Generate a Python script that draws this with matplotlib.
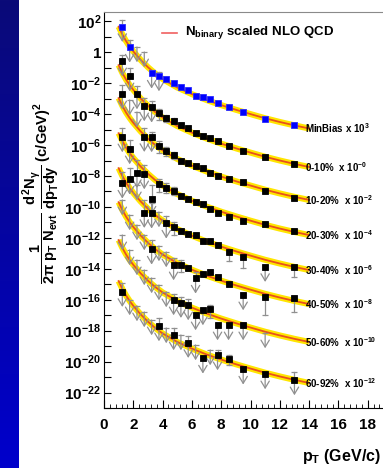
import numpy as np
import matplotlib
matplotlib.use("Agg")
import matplotlib.pyplot as plt
import matplotlib.transforms as mtransforms
from matplotlib.colors import LinearSegmentedColormap
from matplotlib.ticker import FixedLocator, FuncFormatter, MultipleLocator

plt.rcParams['font.family'] = ['Liberation Sans', 'DejaVu Sans']
plt.rcParams['font.weight'] = 'bold'
plt.rcParams['mathtext.fontset'] = 'custom'
plt.rcParams['mathtext.rm'] = 'Liberation Sans:bold'
plt.rcParams['mathtext.it'] = 'Liberation Sans:bold'
plt.rcParams['mathtext.bf'] = 'Liberation Sans:bold'
plt.rcParams['mathtext.sf'] = 'Liberation Sans:bold'
plt.rcParams['mathtext.fallback'] = 'stixsans'

# ---------------- data (log10 of the plotted values) ----------------
classes = ['MinBias', '0-10', '10-20', '20-30', '30-40', '40-50', '50-60', '60-92']
class_labels = [r'MinBias x 10$^{3}$', r'0-10%  x 10$^{-0}$', r'10-20%  x 10$^{-2}$',
                r'20-30%  x 10$^{-4}$', r'30-40%  x 10$^{-6}$', r'40-50%  x 10$^{-8}$',
                r'50-60%  x 10$^{-10}$', r'60-92%  x 10$^{-12}$']

curve_pt = [1.0, 1.25, 1.5, 1.75, 2.0, 2.5, 3.0, 3.5, 4.0, 5.0, 6.0, 7.0, 8.0, 9.0, 10.0, 11.0, 12.0, 13.0, 14.0]
nlo_minbias = [1.655, 1.155, 0.73, 0.37, 0.055, -0.495, -0.97, -1.38, -1.73, -2.28, -2.71, -3.09, -3.42, -3.72, -4.0, -4.27, -4.51, -4.73, -4.93]
nlo_0_10 = [-0.835, -1.335, -1.76, -2.12, -2.435, -2.985, -3.46, -3.87, -4.22, -4.77, -5.2, -5.58, -5.91, -6.21, -6.49, -6.76, -7.0, -7.22, -7.42]
nlo_10_20 = [-2.965, -3.465, -3.89, -4.25, -4.565, -5.115, -5.59, -6.0, -6.35, -6.9, -7.33, -7.71, -8.04, -8.34, -8.62, -8.89, -9.13, -9.35, -9.55]
nlo_20_30 = [-5.235, -5.735, -6.16, -6.52, -6.835, -7.385, -7.86, -8.27, -8.62, -9.17, -9.6, -9.98, -10.31, -10.61, -10.89, -11.16, -11.4, -11.62, -11.82]
nlo_30_40 = [-7.495, -7.995, -8.42, -8.78, -9.095, -9.645, -10.12, -10.53, -10.88, -11.43, -11.86, -12.24, -12.57, -12.87, -13.15, -13.42, -13.66, -13.88, -14.08]
nlo_40_50 = [-9.695, -10.195, -10.62, -10.98, -11.295, -11.845, -12.32, -12.73, -13.08, -13.63, -14.06, -14.44, -14.77, -15.07, -15.35, -15.62, -15.86, -16.08, -16.28]
nlo_50_60 = [-12.145, -12.645, -13.07, -13.43, -13.745, -14.295, -14.77, -15.18, -15.53, -16.08, -16.51, -16.89, -17.22, -17.52, -17.8, -18.07, -18.31, -18.53, -18.73]
nlo_60_92 = [-14.795, -15.295, -15.72, -16.08, -16.395, -16.945, -17.42, -17.83, -18.18, -18.73, -19.16, -19.54, -19.87, -20.17, -20.45, -20.72, -20.96, -21.18, -21.38]
nlo_curves = [nlo_minbias, nlo_0_10, nlo_10_20, nlo_20_30, nlo_30_40, nlo_40_50, nlo_50_60, nlo_60_92]

NA = np.nan  # lower error compatible with zero -> drawn as arrow

# MinBias (x10^3)
mb_pt = [1.25, 1.75, 3.25, 3.75, 4.25, 4.75, 5.25, 5.75, 6.25, 6.75, 7.25, 7.75, 8.5, 9.5, 11.0, 13.0]
mb_y = [1.650, 0.318, -1.362, -1.537, -1.750, -2.009, -2.267, -2.442, -2.810, -2.914, -3.043, -3.263, -3.560, -3.864, -4.297, -4.724]
mb_hi = [2.083, 0.790, -1.149, -1.278, -1.602, -1.860, -2.267, -2.442, -2.810, -2.914, -3.043, -3.263, -3.560, -3.864, -4.297, -4.724]
mb_lo = [NA, NA, NA, NA, -1.925, -2.184, -2.267, -2.442, -2.810, -2.914, -3.043, -3.263, -3.560, -3.864, -4.297, -4.724]
mb_ul_pt = [2.25, 2.75]
mb_ul = [0.338, 0.014]

# 0-10%
c0_pt = [1.25, 1.75, 2.25, 2.75, 3.25, 3.75, 4.25, 4.75, 5.25, 5.75, 6.25, 6.75, 7.25, 7.75, 8.5, 9.5, 11.0, 13.0]
c0_y = [-0.567, -1.537, -2.701, -3.476, -3.560, -3.961, -4.252, -4.446, -4.704, -4.879, -5.202, -5.396, -5.525, -5.719, -6.042, -6.385, -6.773, -7.225]
c0_hi = [-0.180, -1.020, -2.184, -2.959, -3.153, -3.670, -4.058, -4.252, -4.704, -4.879, -5.202, -5.396, -5.525, -5.719, -6.042, -6.385, -6.773, -7.225]
c0_lo = [NA, NA, NA, NA, NA, -4.381, -4.510, -4.640, -4.704, -4.879, -5.202, -5.396, -5.525, -5.719, -6.042, -6.385, -6.773, -7.225]
c0_ul_pt = []
c0_ul = []

# 10-20%
c1_pt = [1.25, 2.75, 3.25, 3.75, 4.25, 4.75, 5.25, 5.75, 6.25, 6.75, 7.25, 7.75, 8.5, 9.5, 11.0, 13.0]
c1_y = [-2.701, -5.461, -5.480, -6.062, -6.385, -6.644, -7.031, -7.180, -7.335, -7.503, -7.826, -7.982, -8.214, -8.408, -8.951, -9.404]
c1_hi = [-2.119, -4.898, -5.157, -5.738, -6.126, -6.449, -7.031, -7.180, -7.335, -7.503, -7.826, -7.982, -8.214, -8.408, -8.951, -9.404]
c1_lo = [NA, NA, NA, -6.514, -6.708, -6.902, -7.031, -7.180, -7.335, -7.503, -7.826, -7.982, -8.214, -8.408, -8.951, -9.404]
c1_ul_pt = [1.75, 2.25]
c1_ul = [-3.088, -3.864]

# 20-30%
c2_pt = [1.25, 1.75, 2.25, 2.75, 3.25, 3.75, 4.25, 4.75, 5.25, 5.75, 6.25, 6.75, 7.25, 7.75, 8.5, 9.5, 11.0, 13.0]
c2_y = [-5.480, -6.256, -7.788, -7.872, -9.507, -8.537, -8.757, -8.951, -9.294, -9.507, -9.662, -9.830, -10.154, -10.373, -10.632, -10.890, -11.104, -11.537]
c2_hi = [-4.898, -5.674, -6.967, -7.290, -8.583, -8.195, -8.453, -8.712, -9.294, -9.507, -9.662, -9.830, -10.154, -10.373, -10.632, -10.890, -11.104, -11.537]
c2_lo = [NA, NA, NA, NA, NA, -9.035, -9.100, -9.229, -9.294, -9.507, -9.662, -9.830, -10.154, -10.373, -10.632, -10.890, -11.104, -11.537]
c2_ul_pt = []
c2_ul = []

# 30-40%
c3_pt = [1.25, 1.75, 2.75, 3.25, 4.25, 4.75, 5.25, 5.75, 6.25, 6.75, 7.25, 7.75, 8.5, 9.5, 11.0, 13.0]
c3_y = [-8.473, -8.214, -10.373, -10.412, -11.058, -11.297, -11.556, -11.750, -11.815, -12.183, -12.203, -12.461, -12.894, -13.218, -13.864, -13.903]
c3_hi = [-7.742, -7.484, -9.552, -9.746, -10.586, -10.974, -11.556, -11.750, -11.815, -12.183, -12.203, -12.461, -12.894, -13.218, -13.864, -13.903]
c3_lo = [NA, NA, NA, NA, NA, -11.815, -11.556, -11.750, -11.815, -12.183, -12.203, -12.461, -13.495, -13.948, NA, -14.530]
c3_ul_pt = [2.25, 3.75]
c3_ul = [-8.583, -10.328]

# 40-50%
c4_pt = [3.25, 4.75, 5.25, 5.75, 6.25, 6.75, 7.25, 7.75, 8.5, 9.5, 11.0, 13.0]
c4_y = [-12.739, -13.754, -13.754, -13.948, -14.614, -14.336, -14.187, -14.510, -14.982, -15.693, -15.803, -15.906]
c4_hi = [-12.138, -13.301, -13.431, -13.948, -14.206, -14.336, -14.187, -14.510, -14.982, -15.693, -15.803, -15.906]
c4_lo = [NA, NA, -14.206, -13.948, NA, -14.336, -14.187, -14.510, -14.982, NA, -16.986, -16.792]
c4_ul_pt = [1.25, 1.75, 2.25, 2.75, 3.75, 4.25]
c4_ul = [-9.552, -10.522, -11.168, -11.815, -12.526, -12.914]

# 50-60%
c5_pt = [4.75, 5.25, 5.75, 6.25, 6.75, 7.25, 7.75, 8.5, 9.5]
c5_y = [-16.016, -16.191, -16.340, -16.986, -16.663, -16.618, -17.633, -17.633, -17.633]
c5_hi = [-15.629, -15.822, -15.952, -16.986, -16.663, -16.340, -17.633, -17.633, -17.633]
c5_lo = [NA, NA, NA, NA, NA, -17.180, NA, NA, NA]
c5_ul_pt = [1.25, 1.75, 2.25, 2.75, 3.25, 3.75, 4.25, 11.0]
c5_ul = [-11.815, -12.784, -13.431, -14.077, -14.594, -15.047, -15.499, -18.150]

# 60-92%
c6_pt = [1.25, 3.75, 4.75, 5.75, 6.75, 7.75, 8.5, 9.5, 11.0, 13.0]
c6_y = [-15.480, -17.697, -18.279, -18.777, -19.785, -19.571, -19.850, -20.496, -20.800, -21.188]
c6_hi = [-14.918, -17.180, -17.826, -18.343, -19.785, -19.248, -19.571, -20.496, -20.800, -20.671]
c6_lo = [NA, NA, NA, NA, NA, NA, -20.218, NA, NA, NA]
c6_ul_pt = [1.75, 2.25, 2.75, 3.25, 4.25, 5.25, 6.25, 7.25]
c6_ul = [-16.016, -16.404, -16.792, -17.309, -17.826, -18.279, -18.925, -19.248]

series = [
    (mb_pt, mb_y, mb_hi, mb_lo, mb_ul_pt, mb_ul, '#0000ff'),
    (c0_pt, c0_y, c0_hi, c0_lo, c0_ul_pt, c0_ul, '#000000'),
    (c1_pt, c1_y, c1_hi, c1_lo, c1_ul_pt, c1_ul, '#000000'),
    (c2_pt, c2_y, c2_hi, c2_lo, c2_ul_pt, c2_ul, '#000000'),
    (c3_pt, c3_y, c3_hi, c3_lo, c3_ul_pt, c3_ul, '#000000'),
    (c4_pt, c4_y, c4_hi, c4_lo, c4_ul_pt, c4_ul, '#000000'),
    (c5_pt, c5_y, c5_hi, c5_lo, c5_ul_pt, c5_ul, '#000000'),
    (c6_pt, c6_y, c6_hi, c6_lo, c6_ul_pt, c6_ul, '#000000'),
]

# ---------------- figure ----------------
W, H = 383, 468
fig = plt.figure(figsize=(W / 100, H / 100), dpi=100)

# blue strip on the left
axs = fig.add_axes([0, 0, 19 / W, 1])
grad = np.linspace(0, 1, 256).reshape(-1, 1)
cmap = LinearSegmentedColormap.from_list('bl', ['#0a0a78', '#0000cc'])
axs.imshow(grad, aspect='auto', cmap=cmap, extent=[0, 1, 0, 1], origin='upper')
axs.axis('off')

x0, ytop, ybot = 104, 12, 408
ax = fig.add_axes([x0 / W, 1 - ybot / H, (W - x0) / W, (ybot - ytop) / H])
ax.set_yscale('log')
ax.set_xlim(0, (W - x0) / 14.65)
ax.set_ylim(1e-23, 10 ** 2.6)

# curves
for lab, lg in zip(class_labels, nlo_curves):
    yv = np.power(10.0, lg)
    ax.plot(curve_pt, yv, color='#ffe600', lw=4.4, solid_capstyle='butt', zorder=2)
    ax.plot(curve_pt, yv, color='#e8501e', lw=1.3, zorder=3)
    ax.text(13.75, yv[-1], lab, fontsize=7, fontweight='bold', ha='left', va='center', zorder=6)

GRAY = '#909090'
ARROW_PT = 11.0  # arrow length in points
down = mtransforms.offset_copy(ax.transData, fig=fig, x=0, y=-ARROW_PT, units='points')


def arrow_from(x, y):
    ax.annotate('', xy=(x, y), xycoords=down, xytext=(x, y), textcoords='data',
                arrowprops=dict(arrowstyle='->,head_length=0.5,head_width=0.3', color=GRAY,
                                lw=0.9, shrinkA=0, shrinkB=0, mutation_scale=10), zorder=4)


for pt, ylog, hi, lo, ulpt, ul, col in series:
    y = np.power(10.0, ylog)
    hv = np.power(10.0, hi)
    lv = np.power(10.0, lo)
    for xi, yi, h, l in zip(pt, y, hv, lv):
        if h > yi * 1.05:
            ax.plot([xi, xi], [yi, h], color=GRAY, lw=0.9, zorder=4)
            ax.plot([xi], [h], marker='_', ms=4.8, mew=0.9, color=GRAY, zorder=4)
        if np.isnan(l):
            arrow_from(xi, yi)
        elif l < yi / 1.05:
            ax.plot([xi, xi], [l, yi], color=GRAY, lw=0.9, zorder=4)
            ax.plot([xi], [l], marker='_', ms=4.8, mew=0.9, color=GRAY, zorder=4)
    uy = np.power(10.0, ul)
    for xi, yi in zip(ulpt, uy):
        ax.plot([xi], [yi], marker='_', ms=4.8, mew=0.9, color=GRAY, zorder=4)
        arrow_from(xi, yi)
    ec = '#2a2aff' if col != '#000000' else '#000000'
    ax.plot(pt, y, 's', ms=4.8, mfc=col, mec=ec, mew=0.6, zorder=5, linestyle='none')

# axes styling
ax.spines['right'].set_visible(False)
ax.spines['top'].set_color('#8a8a8a')
ax.tick_params(axis='both', which='both', direction='in', right=False, top=False)
ax.xaxis.set_major_locator(MultipleLocator(2))
ax.xaxis.set_minor_locator(MultipleLocator(0.4))
ax.tick_params(axis='x', which='major', length=6, pad=7, labelsize=11)
ax.tick_params(axis='x', which='minor', length=3)
ax.yaxis.set_major_locator(FixedLocator([10.0 ** e for e in range(-23, 3)]))
ax.yaxis.set_minor_locator(FixedLocator([]))


def yfmt(v, pos):
    e = int(round(np.log10(v)))
    if e % 2:
        return ''
    if e == 0:
        return '1'
    return r'10$^{%d}$' % e


ax.yaxis.set_major_formatter(FuncFormatter(yfmt))
ax.tick_params(axis='y', which='major', length=5, pad=2, labelsize=11)
for t in ax.get_xticklabels() + ax.get_yticklabels():
    t.set_fontweight('bold')

# legend
fig.add_artist(plt.Line2D([162 / W, 177 / W], [1 - 33 / H, 1 - 33 / H], color='#f06060', lw=1.2))
fig.text(185 / W, 1 - 33 / H, r'N$_{\mathregular{binary}}$ scaled NLO QCD', fontsize=9.5,
         fontweight='bold', ha='left', va='center')

# axis titles
fig.text(381 / W, 1 - 456 / H, r'p$_{\mathregular{T}}$ (GeV/c)', fontsize=11.5, fontweight='bold',
         ha='right', va='center')
fig.text(41 / W, 1 - 193 / H,
         r'$\dfrac{1}{2\pi\ p_{T}\ N_{evt}}\ \dfrac{d^{2}N_{\gamma}}{dp_{T}dy}$ (c/GeV)$^{2}$',
         fontsize=10.5, fontweight='bold', rotation=90, ha='center', va='center')

fig.savefig('out.png', dpi=100)
